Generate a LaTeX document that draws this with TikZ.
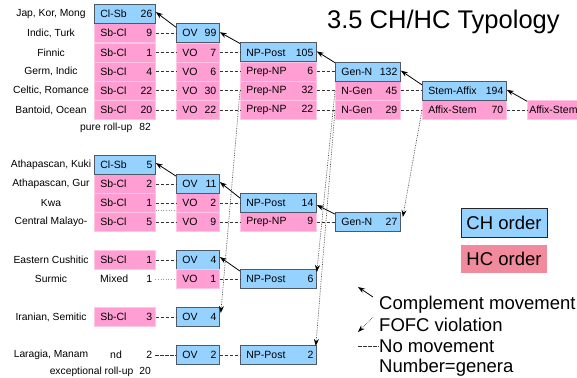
\documentclass[tikz,border=0pt]{standalone}
\usepackage{fontspec}
\setmainfont{Liberation Sans}
\usetikzlibrary{arrows.meta,calc}
\definecolor{chblue}{HTML}{96D2FF}
\definecolor{hcpink}{HTML}{FF9ED2}
\definecolor{hclegend}{HTML}{F08A9C}
\definecolor{bord}{HTML}{4D5966}
\definecolor{sep}{HTML}{FFC6E4}
\newcommand\cellbox[3]{\makebox[#1pt]{\hspace{6pt}#2\hfill#3\hspace{3pt}}}
\begin{document}
\begin{tikzpicture}[x=1pt,y=-1pt,
  cellbase/.style={anchor=west, inner sep=0pt, minimum height=19pt, font=\fontsize{10.5}{12}\selectfont},
  ch/.style={cellbase, fill=chblue, draw=bord, line width=0.8pt},
  hc/.style={cellbase, fill=hcpink, draw=sep, line width=0.5pt},
  plain/.style={cellbase},
  lab/.style={font=\fontsize{10.3}{12}\selectfont, inner sep=0pt},
  nomove/.style={draw=black!80, line width=0.7pt, dash pattern=on 3.5pt off 1.5pt},
  weak/.style={draw=black!40, line width=0.6pt, dotted},
  compl/.style={draw=black, line width=0.8pt, -{Stealth[length=7pt,width=5pt]}},
  fofc/.style={draw=black!70, line width=0.7pt, densely dotted, -{Stealth[length=7pt,width=5pt,black]}},
  legtext/.style={anchor=base west, inner sep=0pt, font=\fontsize{18.5}{20}\selectfont}]
\fill[white] (0,0) rectangle (577,377);
\useasboundingbox (0,0) rectangle (577,377);

% title
\node[anchor=base west, inner sep=0pt, font=\fontsize{25.5}{28}\selectfont] (title) at (327,29) {3.5 CH/HC Typology};

% ---------- group 1 ----------
\node[lab] (l0) at (51,14) {Jap, Kor, Mong};
\node[lab] (l1) at (51,33.2) {Indic, Turk};
\node[lab] (l2) at (51,52.4) {Finnic};
\node[lab] (l3) at (51,71.6) {Germ, Indic};
\node[lab] (l4) at (51,90.8) {Celtic, Romance};
\node[lab] (l5) at (51,110) {Bantoid, Ocean};
\node[lab, anchor=east] (pr) at (151,128) {pure roll-up\hspace{7pt}82};

\node[hc] (a1) at (94,33.2) {\cellbox{61}{Sb-Cl}{9}};
\node[hc] (a2) at (94,52.4) {\cellbox{61}{Sb-Cl}{1}};
\node[hc] (a3) at (94,71.6) {\cellbox{61}{Sb-Cl}{4}};
\node[hc] (a4) at (94,90.8) {\cellbox{61}{Sb-Cl}{22}};
\node[hc] (a5) at (94,110) {\cellbox{61}{Sb-Cl}{20}};
\node[ch] (a0) at (94,14) {\cellbox{61}{Cl-Sb}{26}};

\node[hc] (b2) at (176,52.4) {\cellbox{43}{VO}{7}};
\node[hc] (b3) at (176,71.6) {\cellbox{43}{VO}{6}};
\node[hc] (b4) at (176,90.8) {\cellbox{43}{VO}{30}};
\node[hc] (b5) at (176,110) {\cellbox{43}{VO}{22}};
\node[ch] (b1) at (176,33.2) {\cellbox{43}{OV}{99}};

\node[hc] (c3) at (240,71.6) {\cellbox{76}{Prep-NP}{6}};
\node[hc] (c4) at (240,90.8) {\cellbox{76}{Prep-NP}{32}};
\node[hc] (c5) at (240,110) {\cellbox{76}{Prep-NP}{22}};
\node[ch] (c2) at (240,52.4) {\cellbox{76}{NP-Post}{105}};

\node[hc] (d4) at (335,90.8) {\cellbox{65}{N-Gen}{45}};
\node[hc] (d5) at (335,110) {\cellbox{65}{N-Gen}{29}};
\node[ch] (d3) at (335,71.6) {\cellbox{65}{Gen-N}{132}};

\node[hc] (e5) at (422,110) {\cellbox{84}{Affix-Stem}{70}};
\node[ch] (e4) at (422,90.8) {\cellbox{84}{Stem-Affix}{194}};

\node[hc] (f5) at (527,110) {\makebox[80pt][l]{\hspace{2pt}Affix-Stem}};

\foreach \p/\q in {a1/b1,a2/b2,a3/b3,a4/b4,a5/b5,b2/c2,b3/c3,b4/c4,b5/c5,c3/d3,c4/d4,c5/d5,d4/e4,d5/e5,e5/f5}
  \draw[nomove] (\p) -- (\q);

\draw[compl] ($(b1.north west)+(0,4)$) -- ($(a0.east)+(0,-2)$);
\draw[compl] ($(c2.north west)+(0,1)$) -- ($(b1.east)+(0,-1)$);
\draw[compl] ($(d3.north west)+(0,1)$) -- ($(c2.east)+(0,-1)$);
\draw[compl] ($(e4.north west)+(0,4)$) -- ($(d3.east)+(0,-1)$);
\draw[compl] ($(f5.north west)+(0,1)$) -- ($(e4.east)+(0,-1)$);

% ---------- group 2 ----------
\node[lab] (k0) at (51,165) {Athapascan, Kuki};
\node[lab] (k1) at (51,184) {Athapascan, Gur};
\node[lab] (k2) at (51,203) {Kwa};
\node[lab] (k3) at (51,222) {Central Malayo-};

\node[hc] (p1) at (94,184) {\cellbox{61}{Sb-Cl}{2}};
\node[hc] (p2) at (94,203) {\cellbox{61}{Sb-Cl}{1}};
\node[hc] (p3) at (94,222) {\cellbox{61}{Sb-Cl}{5}};
\node[ch] (p0) at (94,165) {\cellbox{61}{Cl-Sb}{5}};

\node[hc] (q2) at (176,203) {\cellbox{43}{VO}{2}};
\node[hc] (q3) at (176,222) {\cellbox{43}{VO}{9}};
\node[ch] (q1) at (176,184) {\cellbox{43}{OV}{11}};

\node[hc] (r3) at (240,222) {\cellbox{76}{Prep-NP}{9}};
\node[ch] (r2) at (240,203) {\cellbox{76}{NP-Post}{14}};

\node[ch] (s3) at (335,222) {\cellbox{65}{Gen-N}{27}};

\foreach \p/\q in {p1/q1,p2/q2,p3/q3,q2/r2,q3/r3,r3/s3}
  \draw[nomove] (\p) -- (\q);
\draw[weak] ($(p2.east)+(0,7)$) -- ($(q2.west)+(0,7)$);

\draw[compl] ($(q1.north west)+(0,2)$) -- ($(p0.east)+(0,-2)$);
\draw[compl] ($(r2.north west)+(0,5)$) -- ($(q1.east)+(0,-2)$);
\draw[compl] ($(s3.north west)+(0,2)$) -- ($(r2.east)+(0,2)$);

% ---------- group 3 ----------
\node[lab] (m0) at (51,260) {Eastern Cushitic};
\node[lab] (m1) at (51,279) {Surmic};
\node[lab] (m2) at (51,317) {Iranian, Semitic};
\node[lab] (m3) at (51,355) {Laragia, Manam};
\node[lab, anchor=east] (er) at (151,372) {exceptional roll-up\hspace{6pt}20};

\node[hc] (u0) at (94,260) {\cellbox{61}{Sb-Cl}{1}};
\node[plain] (u1) at (94,279) {\cellbox{61}{Mixed}{1}};
\node[hc] (u2) at (94,317) {\cellbox{61}{Sb-Cl}{3}};
\node[plain] (u3) at (94,355) {\cellbox{61}{\hspace{10pt}nd}{2}};

\node[ch] (v0) at (176,260) {\cellbox{43}{OV}{4}};
\node[hc] (v1) at (176,279) {\cellbox{43}{VO}{1}};
\node[ch] (v2) at (176,317) {\cellbox{43}{OV}{4}};
\node[ch] (v3) at (176,355) {\cellbox{43}{OV}{2}};

\node[ch] (w1) at (240,279) {\cellbox{76}{NP-Post}{6}};
\node[ch] (w3) at (240,355) {\cellbox{76}{NP-Post}{2}};

\foreach \p/\q in {u0/v0,v1/w1,u2/v2,u3/v3,v3/w3}
  \draw[nomove] (\p) -- (\q);
\draw[weak] (u1) -- (v1);

\draw[compl] ($(w1.north west)+(0,2)$) -- ($(v0.east)+(0,-3)$);

% FOFC violations
\draw[fofc] (c4.west) -- ($(v2.east)+(1,-4)$);
\draw[fofc] (d4.west) -- ($(w1.east)+(0,-7)$);
\draw[fofc] (d5.west) -- ($(w3.east)+(-1,-9)$);
\draw[fofc] (e5.west) -- ($(s3.east)+(2,-5)$);

% ---------- legend ----------
\node[draw=black!85, line width=0.9pt, fill=chblue, minimum width=86pt, minimum height=29pt, inner sep=0pt,
      font=\fontsize{18.5}{20}\selectfont] (chleg) at (504,222.5) {CH order};
\node[fill=hclegend, minimum width=86pt, minimum height=28pt, inner sep=0pt,
      font=\fontsize{18.5}{20}\selectfont] (hcleg) at (504,259) {HC order};

\node[legtext] (t1) at (379,309) {Complement movement};
\node[legtext] (t2) at (379,331) {FOFC violation};
\node[legtext] (t3) at (379,352) {No movement};
\node[legtext] (t4) at (379,372.5) {Number=genera};

\coordinate (ka) at (373,297);
\coordinate (kb) at (358,287);
\draw[compl] (ka) -- (kb);
\coordinate (fa) at (373,317);
\coordinate (fb) at (358,332);
\draw[fofc] (fa) -- (fb);
\coordinate (na) at (358,346);
\coordinate (nb) at (379,346);
\draw[nomove, line width=0.6pt] (na) -- (nb);
\end{tikzpicture}
\end{document}
